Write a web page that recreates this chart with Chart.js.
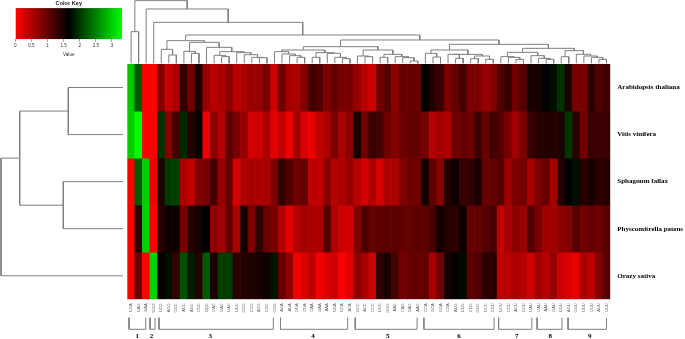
<!DOCTYPE html>
<html>
<head>
<meta charset="utf-8">
<script src="https://cdn.jsdelivr.net/npm/chart.js@4"></script>
<style>
html,body{margin:0;padding:0;background:#fff;width:685px;height:339px;overflow:hidden}
canvas{position:absolute;display:block;filter:blur(0.35px)}
</style>
</head>
<body>
<script>
const codons = ["UGA","UAG","UAA","UGG",
"UCG","AGG","GGC","AUC","AGC","CUC","GUC","CAC","GAC","UAC","UUC","GCG","CCG","ACG","CGC","CGG",
"AGA","AUA","GUA","CUA","CAA","GAA","AAA","UUA","UCA","ACA",
"GCC","ACC","CCC","UGC","GGG","AAC","CAG","GAG","AAG",
"CCA","GCA","GGA","CGA","AUG","UUG","CUG","GUG","UCC","CGU",
"UCU","CCU","ACU","GCU","UAU",
"CAU","AAU","GAU","UGU",
"AGU","GGU","UUU","CUU","AUU","GUU"];
const species = ["Arabidopsis thaliana","Vitis vinifera","Sphagnum fallax","Physcomitrella patens","Orazy sativa"];
const arabidopsis = [2.94,2.23,0,0,.81,.36,.55,1.33,.94,1.49,.68,.45,.55,.74,.45,.52,.68,.68,.87,.32,.94,.58,
.55,.81,1.2,1.13,.84,1,.87,.87,.68,.45,.32,.91,1.1,.74,1,.97,.97,1.65,1.42,1.26,.87,
1,1.2,.87,.84,.68,.81,1.16,1.29,.94,1.1,1.49,1.49,1.63,1.75,1.97,1.46,.87,.87,1.36,1.13,1.23];
const vitis = [2.98,3.3,0,0,1.97,.81,1.2,1.91,1.42,1.62,.1,.74,.49,1.07,.87,.68,.29,.32,.55,.19,.39,.13,
.58,.26,.13,.42,.55,.87,.55,.74,1.49,.94,1.29,1.2,.94,.78,.94,1,1,.87,.49,.61,.52,
.94,1,.94,1.26,1,1.23,1.1,.84,.61,.84,1.29,1.39,1.42,1.42,1.46,2,1.39,.91,1.29,1.26,1.29];
const sphagnum = [0,2.23,2.98,.1,1.46,2.04,2.07,.55,.39,.81,.87,1.2,.68,1,.26,.49,.58,.55,.55,.81,1.33,1.13,
.94,1,.42,.42,.78,.49,.52,.68,.45,.26,.52,.26,.52,.52,.81,.94,.94,1.52,1.04,.78,1.42,
1.55,1.29,1.33,1.49,1,1,1.1,.61,.87,.91,.55,.84,.97,.58,1.42,1.65,1.75,1.39,1.49,1.36,1.39];
const physcomitrella = [0,1.39,3.01,0,1.39,1.55,1.55,.87,1.42,1.52,1.65,.71,.61,1,.55,1.49,.87,1.36,1,.87,.49,.19,
.49,.58,.55,.55,1.1,.52,.32,.32,.81,1.16,1,1.04,1.07,1.07,1,1,1.04,1.04,1.2,1.52,1.39,
1.36,1.55,1,1,1.1,1.2,.39,.58,.74,.65,1.13,.87,.61,.61,.74,.81,1.1,.94,1,.94,1.07];
const oryza = [0,1,0,3.01,1.62,1.75,1.33,2.17,1.84,1.39,2.23,1.49,2.04,2.04,1.39,1.42,1.46,1.49,1.55,1.78,1,.71,
.1,.23,.42,.1,.23,.32,.03,.19,.74,.58,.32,1.33,1.49,1.2,.91,1,1,1,.55,.94,1.52,
1.62,1.72,1.07,1.13,1.39,1.39,.42,.45,.55,.45,.29,.61,.45,.68,.32,.23,.13,.52,.42,.81,1.07];
const rowValues = [arabidopsis,vitis,sphagnum,physcomitrella,oryza];

// dendrograms: [left, right, merge height]; leaves are column / row indices
const codonTreeA = [[4,[5,6,25],42],[[7,[8,9,30],36],[10,[[11,[12,13,20],24],[14,[15,[16,[17,18,17],18],26],32],35],48],63],68];
const codonTreeB = [[[19,[20,[21,[22,23,18],23],28],35],[[24,25,18],[26,[27,[28,29,14],18],30],32],40],
  [[30,[31,32,20],22],[[33,34,18],[35,[36,[37,38,7],17],20],27],40],50];
const codonTreeC = [[[39,[40,41,19],30],[[42,[43,44,15],27],[[45,46,14],[47,48,12],22],27],40],
  [[[49,[50,[51,52,12],18],20],[53,[54,[55,56,12],15],23],33],[[57,58,20],[59,[60,[61,[62,63,12],18],22],27],38],45],57];
const codonTree = [[0,1,95],[2,[3,[codonTreeA,[codonTreeB,codonTreeC,70],85],123],163],188];
const speciesTree = [[[0,1,54.7],[2,3,59.7],103.3],4,122];

const groupNames = ["1","2","3","4","5","6","7","8","9"];
const groupStart = [.23,3.01,4.2,20.3,30.2,39.3,49.2,54.3,58.4];
const groupEnd = [2.44,3.67,19.35,29.2,38.4,48.6,53.6,57.6,63.5];
const groupLabelAt = [1.33,3.2,11,24.6,34.5,43.96,51.6,56.04,61.27];
const keyTicks = [0,.5,1,1.5,2,2.5,3];
const keyTickLabels = ["0","0.5","1","1.5","2","2.5","3"];
const keyMax = 3.32, mid = 1.65, top_ = 3.3;

function rscuColor(v){
  if(v<=mid) return `rgb(${Math.round(255*(1-v/mid))},0,0)`;
  return `rgb(0,${Math.round(255*Math.min(1,(v-mid)/(top_-mid)))},0)`;
}
function makeCanvas(l,t,w,h){
  const c=document.createElement('canvas');
  c.width=w;c.height=h;
  c.style.cssText=`left:${l}px;top:${t}px;width:${w}px;height:${h}px`;
  document.body.appendChild(c);
  return c.getContext('2d');
}
function treePoints(tree,swap){
  const pts=[];
  const P=(p,h)=>swap?{x:h,y:p}:{x:p,y:h};
  (function walk(n){
    if(typeof n==='number') return {p:n+.5,h:0};
    const a=walk(n[0]),b=walk(n[1]),h=n[2];
    pts.push(P(a.p,a.h),P(a.p,h),P(b.p,h),P(b.p,b.h),{x:NaN,y:NaN});
    return {p:(a.p+b.p)/2,h};
  })(tree);
  return pts;
}
const base={responsive:false,animation:false,devicePixelRatio:1,plugins:{legend:{display:false},tooltip:{enabled:false}}};
const noPad=s=>{s.paddingLeft=0;s.paddingRight=0;s.paddingTop=0;s.paddingBottom=0;};
const line='#7f7f7f';
const noGrid={display:false,drawTicks:false};

// heat map
new Chart(makeCanvas(127,64,558,275),{
  type:'bar',
  data:{labels:codons,datasets:rowValues.map((vals,i)=>({
    label:species[i],
    data:vals.map(()=>1),
    backgroundColor:vals.map(rscuColor),
    borderWidth:0,barPercentage:1,categoryPercentage:1
  }))},
  options:{...base,
    layout:{padding:{left:.3,top:0,right:0,bottom:0}},
    scales:{
      x:{stacked:true,grid:noGrid,border:{display:false},
        ticks:{autoSkip:false,minRotation:90,maxRotation:90,padding:4,color:'#555',font:{family:'Liberation Sans',size:4}},
        afterFit(s){s.height=39.7;noPad(s);}},
      y:{stacked:true,position:'right',reverse:true,min:0,max:5,grid:noGrid,border:{display:false},
        afterBuildTicks(s){s.ticks=species.map((_,i)=>({value:i+.5}));},
        ticks:{autoSkip:false,padding:7,color:'#000',font:{family:'Liberation Serif',size:7,weight:'bold'},
          callback:(v,i)=>species[i]},
        afterFit(s){s.width=74.7;noPad(s);}}
    }}
});

// codon dendrogram
new Chart(makeCanvas(127,0,484,64),{
  type:'scatter',
  data:{datasets:[{data:treePoints(codonTree,false),showLine:true,spanGaps:false,pointRadius:0,borderColor:line,borderWidth:1,tension:0,clip:false}]},
  options:{...base,layout:{padding:{left:.3,right:.7,top:0,bottom:.67}},
    scales:{x:{type:'linear',min:0,max:64,display:false},y:{min:0,max:190,display:false}}}
});

// species dendrogram
new Chart(makeCanvas(0,64,124,236),{
  type:'scatter',
  data:{datasets:[{data:treePoints(speciesTree,true),showLine:true,spanGaps:false,pointRadius:0,borderColor:line,borderWidth:1,tension:0,clip:false}]},
  options:{...base,layout:{padding:{left:0,right:1,top:0,bottom:.7}},
    scales:{x:{type:'linear',min:0,max:123,reverse:true,display:false},y:{min:0,max:5,reverse:true,display:false}}}
});

// group brackets and numbers
new Chart(makeCanvas(127,316,484,23),{
  type:'scatter',
  data:{datasets:[{
    data:groupStart.flatMap((s,i)=>[{x:s,y:1},{x:s,y:0},{x:groupEnd[i],y:0},{x:groupEnd[i],y:1},{x:NaN,y:NaN}]),
    showLine:true,spanGaps:false,pointRadius:0,borderColor:line,borderWidth:1,tension:0,clip:false}]},
  options:{...base,layout:{padding:{left:.3,right:.7,top:1.7,bottom:0}},
    scales:{
      x:{type:'linear',min:0,max:64,grid:noGrid,border:{display:false},
        afterBuildTicks(s){s.ticks=groupLabelAt.map(v=>({value:v}));},
        ticks:{autoSkip:false,maxRotation:0,padding:3,color:'#000',font:{family:'Liberation Serif',size:7,weight:'bold'},
          callback:(v,i)=>groupNames[i]},
        afterFit(s){s.height=9.7;noPad(s);}},
      y:{min:0,max:1,display:false}
    }}
});

// colour key
new Chart(makeCanvas(0,0,138,57),{
  type:'bar',
  data:{labels:['key'],datasets:[{
    data:[[0,keyMax]],
    barPercentage:1,categoryPercentage:1,borderWidth:.6,borderColor:'#777',borderSkipped:false,
    backgroundColor(ctx){
      const a=ctx.chart.chartArea;
      if(!a) return '#000';
      const g=ctx.chart.ctx.createLinearGradient(a.left,0,a.right,0);
      g.addColorStop(0,'#ff0000');g.addColorStop(mid/keyMax,'#000000');g.addColorStop(1,'#00ff00');
      return g;
    }}]},
  options:{...base,indexAxis:'y',
    layout:{padding:{left:15.3,right:15.7,top:0,bottom:0}},
    plugins:{...base.plugins,
      title:{display:true,text:'Color Key',color:'#222',font:{family:'Liberation Sans',size:5.6,weight:'bold',lineHeight:1.15},padding:{top:.5,bottom:1.1}}},
    scales:{
      x:{type:'linear',min:0,max:keyMax,position:'bottom',
        grid:{display:true,drawOnChartArea:false,drawTicks:true,tickLength:2.5,color:'#777',lineWidth:.7},border:{display:false},
        afterBuildTicks(s){s.ticks=keyTicks.map(v=>({value:v}));},
        ticks:{autoSkip:false,maxRotation:0,padding:1.5,color:'#333',font:{family:'Liberation Sans',size:4.6},
          callback:(v,i)=>keyTickLabels[i]},
        title:{display:true,text:'Value',color:'#333',font:{family:'Liberation Sans',size:4.6},padding:0},
        afterFit(s){s.height=17.7;noPad(s);}},
      y:{type:'category',display:false}
    }}
});
</script>
</body>
</html>
